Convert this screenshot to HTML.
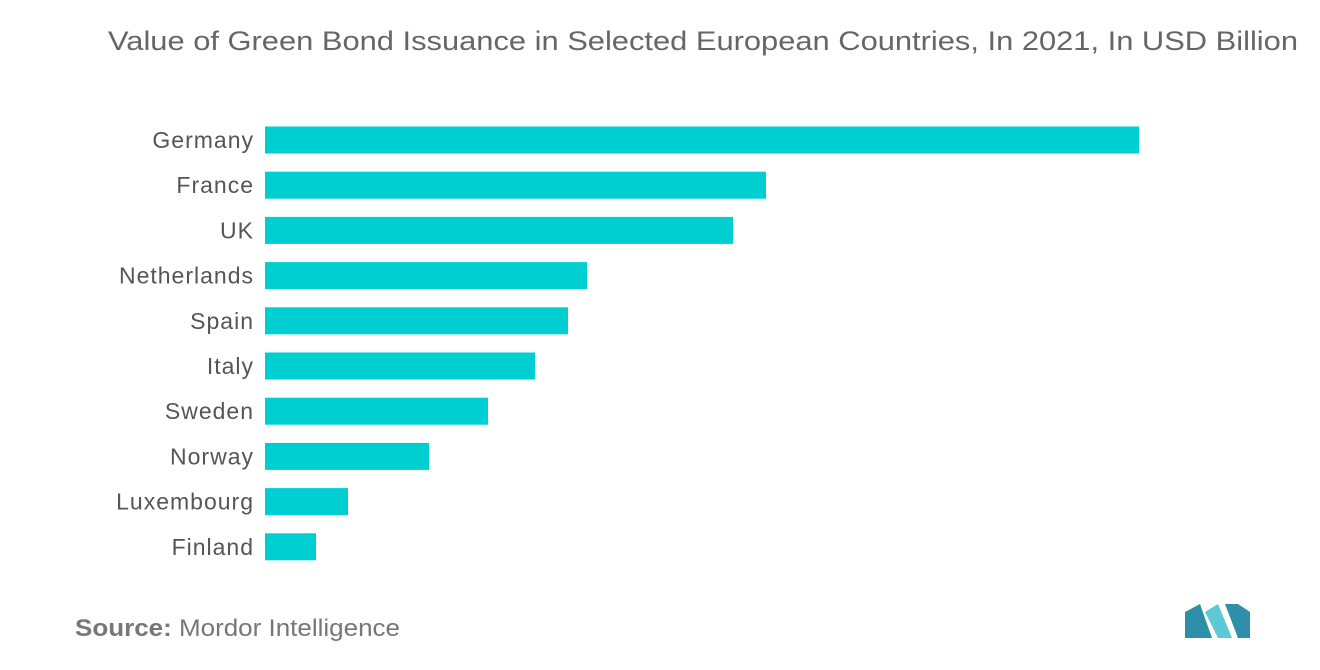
<!DOCTYPE html>
<html><head><meta charset="utf-8"><style>
body{margin:0;background:#fff;width:1320px;height:665px;overflow:hidden;font-family:"Liberation Sans",sans-serif}
</style></head><body>
<svg width="1320" height="665">
<text x="108" y="50" font-size="27" fill="#666" textLength="1190" lengthAdjust="spacingAndGlyphs">Value of Green Bond Issuance in Selected European Countries, In 2021, In USD Billion</text>
<g id="bars"></g>
<text x="75" y="636" font-size="24" fill="#777" textLength="325" lengthAdjust="spacingAndGlyphs"><tspan font-weight="bold">Source:</tspan> Mordor Intelligence</text>
<g>
<polygon points="1185,638 1185,612 1200,604 1212,638" fill="#2d8fa8"/>
<polygon points="1205,612 1218,604 1232,638 1218,638" fill="#5cc9d6"/>
<polygon points="1225,604 1238,604 1250,612 1250,638 1238,638" fill="#2d8fa8"/>
</g>
</svg>
<script>
const categories=["Germany","France","UK","Netherlands","Spain","Italy","Sweden","Norway","Luxembourg","Finland"];
const values=[87.4,50.1,46.8,32.2,30.3,27.0,22.3,16.4,8.3,5.1];
const x0=265,xMax=87.4,pxMax=874,y0=140,step=45.2,bh=27;
const xs=v=>x0+v/xMax*pxMax;
const ys=i=>y0+i*step;
const g=document.getElementById('bars');
const NS='http://www.w3.org/2000/svg';
categories.forEach((c,i)=>{
 const r=document.createElementNS(NS,'rect');
 r.setAttribute('x',x0);r.setAttribute('y',ys(i)-bh/2);
 r.setAttribute('width',xs(values[i])-x0);r.setAttribute('height',bh);
 r.setAttribute('fill','#00cfd1');
 
 
 g.appendChild(r);
 const t=document.createElementNS(NS,'text');
 t.setAttribute('x',254);t.setAttribute('y',ys(i)+8);
 t.setAttribute('text-anchor','end');t.setAttribute('font-size','23');t.setAttribute('fill','#555');
 t.setAttribute('letter-spacing','1');
 t.textContent=c;
 
 
 g.appendChild(t);
});
</script>
</body></html>
